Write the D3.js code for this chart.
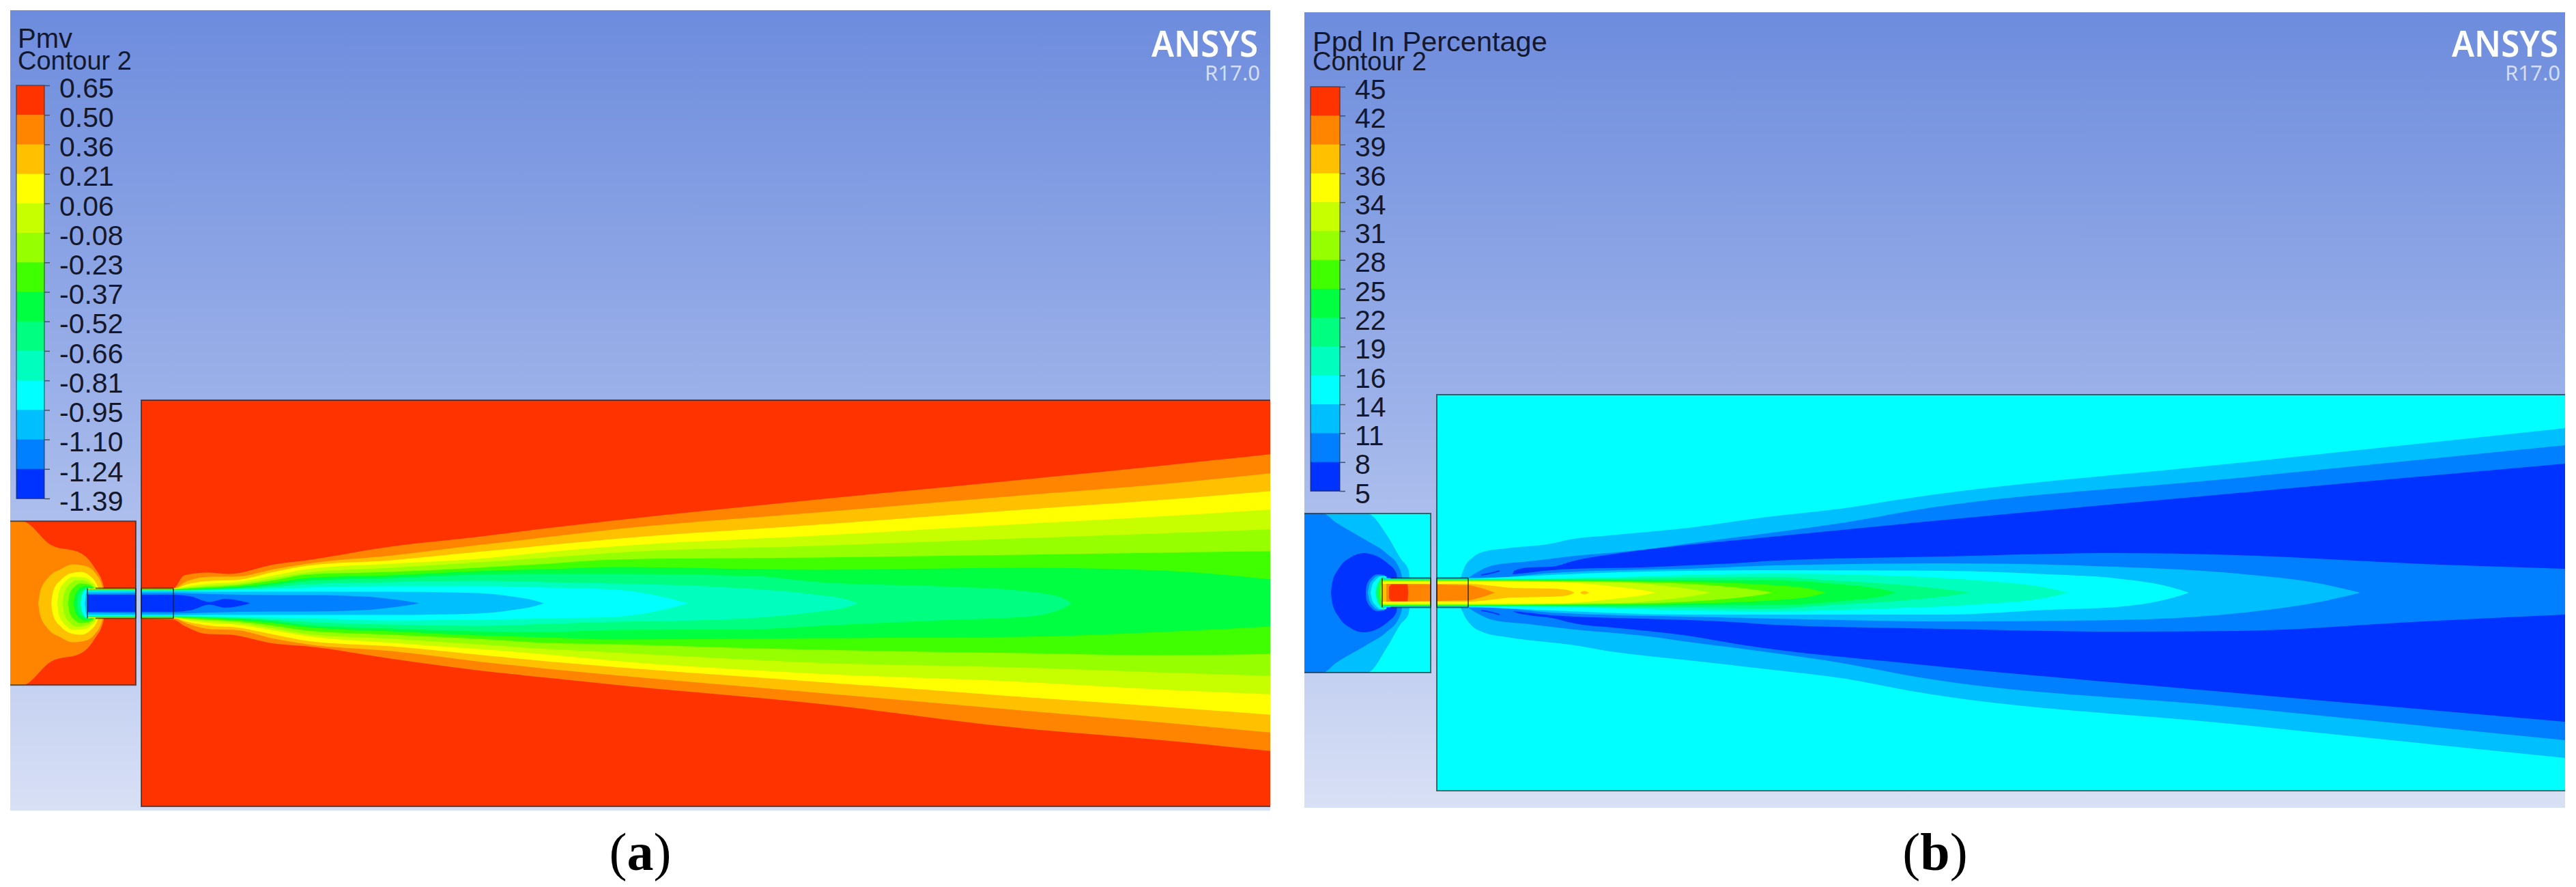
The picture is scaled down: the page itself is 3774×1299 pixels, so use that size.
<!DOCTYPE html>
<html>
<head>
<meta charset="utf-8">
<script src="https://cdn.jsdelivr.net/npm/d3@7"></script>
<style>
  html, body { margin: 0; background: #fff; }
  svg { display: block; }
  text { font-family: "Liberation Sans", Arial, sans-serif; }
</style>
</head>
<body>
<svg id="chart" width="3774" height="1299"></svg>
<script>
// contour band colours, top of the legend first
const bandColors = ['#ff3300', '#ff8400', '#ffc000', '#ffff00', '#c8ff00', '#96ff00', '#40ff00',
    '#00ff40', '#00ff80', '#00ffbf', '#00ffff', '#00bfff', '#0080ff', '#0033ff'];

const pmvLabels = ['0.65', '0.50', '0.36', '0.21', '0.06', '-0.08', '-0.23', '-0.37', '-0.52',
    '-0.66', '-0.81', '-0.95', '-1.10', '-1.24', '-1.39'];
const ppdLabels = ['45', '42', '39', '36', '34', '31', '28', '25', '22', '19', '16', '14', '11', '8', '5'];

// contour rows: [axial distance from nozzle exit, radius above axis, radius below axis]
// pmv jet
const pmvJet1 = [[-126, 21.5, 21.5], [0, 22, 24], [16, 41, 33], [50, 45, 45], [82, 43, 46], [148, 57, 59], [196, 63, 63], [320, 83, 81], [446, 97, 98], [550, 110, 109], [646, 121, 119], [946, 152, 147], [1246, 181, 183], [1446, 201, 200], [1607, 218, 216]];
const pmvJet2 = [[-126, 21.5, 21.5], [0, 22, 22], [21, 33, 30], [56, 39, 38], [90, 39, 39], [148, 50, 52], [196, 58, 60], [320, 70, 70], [446, 85, 85], [550, 97, 96], [646, 108, 105], [946, 133, 131], [1246, 158, 157], [1446, 174, 174], [1607, 190, 189]];
const pmvJet3 = [[-126, 21, 21], [0, 21.5, 21.5], [21, 28, 27], [56, 33, 33], [90, 34, 35], [148, 46, 46], [196, 55, 55], [320, 63, 63], [446, 75, 75], [550, 85, 85], [646, 94, 93], [946, 115, 115], [1246, 137, 137], [1446, 151, 151], [1607, 164, 163]];
const pmvJet4 = [[-126, 21, 21], [0, 21.5, 21.5], [21, 25, 25], [56, 29, 29], [90, 31, 31], [148, 41, 40], [196, 50, 48], [320, 58, 58], [446, 65, 67], [550, 75, 75], [646, 83, 84], [946, 99, 103], [1246, 116, 115], [1446, 127, 126], [1607, 137, 133]];
const pmvJet5 = [[-126, 20.5, 20.5], [0, 21, 21], [21, 23, 23], [56, 26, 26], [90, 28, 28], [148, 37, 37], [196, 45, 45], [320, 52, 52], [446, 60, 60], [550, 67, 67], [646, 74, 72], [946, 84, 87], [1246, 95, 94], [1446, 102, 101], [1607, 108, 106]];
const pmvJet6 = [[-126, 20.5, 20.5], [0, 20.5, 20.5], [21, 22, 22], [56, 24, 24], [90, 26, 26], [148, 34, 33], [196, 42, 40], [320, 46, 46], [446, 52, 52], [550, 58, 58], [646, 64, 60], [946, 67, 68], [1246, 71, 73], [1446, 74, 76], [1607, 76, 74]];
const pmvJet7 = [[-126, 20, 20], [0, 20, 20], [56, 22, 22], [90, 24, 24], [148, 30, 29], [196, 37, 35], [320, 41, 41], [446, 47, 47], [550, 50, 50], [646, 53, 53], [946, 49, 51], [1246, 52, 49], [1446, 48, 42], [1607, 35, 34]];
const pmvJet8 = [[-126, 19.5, 19.5], [0, 19.5, 19.5], [56, 21, 21], [90, 22, 22], [148, 27, 26], [196, 33, 32], [320, 37, 37], [446, 42, 41], [550, 43, 42], [646, 43, 39], [850, 40, 38], [946, 31, 33], [1146, 24, 24], [1246, 18, 20], [1300, 9, 9], [1316, 0, 0]];
const pmvJet9 = [[-126, 19, 19], [0, 19, 19], [56, 20, 20], [90, 21, 21], [148, 24, 24], [196, 28, 27], [320, 31, 31], [446, 33, 33], [550, 31, 30], [646, 29, 27], [796, 24, 24], [946, 12, 12], [985, 6, 6], [1003, 0, 0]];
const pmvJet10 = [[-126, 18.5, 18.5], [0, 18.5, 18.5], [56, 19, 19], [90, 20, 20], [148, 21, 21], [196, 23, 22], [320, 25, 25], [446, 25, 24], [550, 23, 22], [646, 20, 20], [710, 11, 11], [754, 0, 0]];
const pmvJet11 = [[-126, 17, 17], [0, 17.5, 17.5], [53, 17, 17], [148, 17, 17], [196, 17, 17], [320, 17, 17], [446, 15, 15], [496, 10, 10], [530, 4, 4], [543, 0, 0]];
const pmvJet12 = [[-126, 14, 14], [0, 15, 15], [53, 13.5, 13.5], [148, 12, 12], [196, 12, 12], [279, 10, 10], [329, 5, 5], [361, 0, 0]];
const pmvJet13 = [[-126, 12.5, 12.5], [0, 12.5, 12.5], [26, 10, 10], [53, 2, 2], [76, 6.5, 6.5], [96, 4, 4], [113, 0, 0]];

// pmv inlet room
const pmvInlet1 = [[-239, 120, 120], [-222, 120, 120], [-179, 85, 85], [-135, 73, 73], [-116, 53, 53], [-102, 24, 24], [-100, 0, 0]];
const pmvInlet2 = [[-198, 0, 0], [-195, 18, 18], [-183, 38, 38], [-165, 50, 50], [-148, 57, 57], [-130, 55, 55], [-115, 45, 45], [-104, 24, 24], [-102, 0, 0]];
const pmvInlet3 = [[-179, 0, 0], [-176, 18, 18], [-165, 34, 34], [-150, 44, 44], [-135, 46, 46], [-122, 40, 40], [-110, 22, 22], [-107, 0, 0]];
const pmvInlet4 = [[-170, 0, 0], [-168, 16, 16], [-158, 32, 32], [-146, 39, 39], [-132, 38, 38], [-120, 32, 32], [-112, 22, 22], [-109, 0, 0]];
const pmvInlet5 = [[-162, 0, 0], [-160, 15, 15], [-152, 28, 28], [-141, 34, 34], [-130, 33, 33], [-118, 26, 26], [-112, 20, 20], [-110, 0, 0]];
const pmvInlet6 = [[-154, 0, 0], [-152, 14, 14], [-145, 24, 24], [-136, 29, 29], [-126, 28, 28], [-116, 22, 22], [-113, 0, 0]];
const pmvInlet7 = [[-146, 0, 0], [-144, 12, 12], [-138, 21, 21], [-130, 25, 25], [-120, 24, 24], [-114, 0, 0]];
const pmvInlet8 = [[-141, 0, 0], [-139, 12, 12], [-132, 20, 20], [-124, 23, 23], [-116, 0, 0]];
const pmvInlet10 = [[-136, 0, 0], [-134, 12, 12], [-129, 20, 20], [-122, 23, 23], [-118, 0, 0]];
const pmvInlet11 = [[-130, 0, 0], [-128, 14, 14], [-125, 21, 21], [-120, 0, 0]];

// ppd jet
const ppdJet1 = [[-11, 22, 22], [-6, 36, 33], [7, 52, 50], [22, 60, 58], [56, 65, 65], [122, 72, 73], [149, 78, 76], [208, 84, 86], [323, 95, 99], [438, 111, 112], [553, 124, 126], [649, 139, 144], [1127, 190, 193], [1607, 241, 242]];
const ppdJet2 = [[0, 22, 22], [36, 40, 40], [89, 46, 46], [156, 54, 54], [256, 63, 63], [322, 72, 72], [438, 87, 87], [553, 103, 104], [649, 120, 122], [1127, 168, 168], [1607, 216, 216]];
const ppdJet3 = [[65, 26, 26], [67, 32, 28], [89, 37, 33], [122, 38, 37], [156, 47, 45], [222, 58, 52], [322, 70, 63], [405, 78, 77], [649, 102, 104], [1127, 146, 147], [1607, 189, 189]];
const ppdJet4 = [[0, 22, 22], [67, 27, 27], [122, 33, 33], [156, 35, 35], [256, 37, 38], [322, 40, 40], [389, 43, 43], [449, 47, 47], [699, 53, 53], [949, 58, 57], [1127, 55, 56], [1400, 42, 42], [1607, 35, 32]];
const ppdJet5 = [[-126, 21.5, 21.5], [36, 22, 22], [122, 29, 29], [222, 33, 33], [322, 35, 35], [449, 40, 38], [699, 43, 42], [949, 38, 40], [1127, 28, 30], [1250, 13, 13], [1307, 0, 0]];
const ppdJet6 = [[-126, 20.5, 20.5], [0, 20.5, 20.5], [36, 22, 22], [122, 26, 26], [222, 30, 30], [322, 32, 32], [449, 33, 32], [699, 32, 32], [849, 27, 25], [949, 21, 21], [1030, 8, 8], [1056, 0, 0]];
const ppdJet7 = [[-126, 20, 20], [0, 20, 20], [122, 21, 21], [222, 23, 23], [322, 26, 26], [449, 28, 27], [616, 25, 23], [749, 18, 17], [849, 7, 7], [879, 0, 0]];
const ppdJet8 = [[-126, 19.5, 19.5], [0, 19.5, 19.5], [122, 20, 20], [222, 21, 21], [322, 22, 22], [449, 23, 23], [532, 18, 18], [616, 13, 13], [716, 3, 3], [736, 0, 0]];
const ppdJet9 = [[-126, 19, 19], [0, 19, 19], [122, 19, 19], [322, 18.5, 18.5], [449, 18, 18], [549, 12, 12], [616, 3, 3], [626, 0, 0]];
const ppdJet10 = [[-126, 18.5, 18.5], [0, 18.5, 18.5], [122, 18, 18], [222, 17.5, 17.5], [322, 16, 16], [389, 14, 14], [449, 11, 11], [500, 6, 6], [524, 0, 0]];
const ppdJet11 = [[-126, 18, 18], [0, 18, 18], [122, 17, 17], [222, 16, 16], [322, 13, 13], [389, 8, 8], [430, 3, 3], [446, 0, 0]];
const ppdJet12 = [[-126, 17, 17], [0, 17, 17], [122, 16, 16], [222, 15, 15], [289, 10, 10], [340, 3, 3], [356, 0, 0]];
const ppdJet13 = [[-126, 15.5, 15.5], [0, 16, 16], [100, 16, 16], [156, 14.5, 14.5], [222, 8, 8], [260, 3, 3], [276, 0, 0]];
const ppdJet14 = [[-126, 13, 13], [0, 13, 13], [36, 10, 10], [66, 7, 7], [122, 6, 6], [145, 4, 4], [156, 0, 0]];
const ppdIslet = [[164, 0, 0], [170, 2.5, 2.5], [177, 0, 0]];
const ppdJet15 = [[-120, 13, 13], [0, 11, 11], [14, 8, 8], [28, 4, 4], [39, 0, 0]];
const ppdJet16 = [[-116, 8, 8], [-112, 12.5, 12.5], [-89, 12.5, 12.5], [-88, 0, 0]];
// thin dark streaks just past the exit; negative third column is the inner edge of the streak
const ppdStreakUpper = [[19, 27, -25], [35, 30, -28], [46, 33, -31]];
const ppdStreakLower = [[19, -25, 27], [35, -28, 30], [46, -31, 33]];

// ppd inlet room
const ppdInlet1 = [[-240, 116, 117], [-148, 116, 117], [-119, 84, 80], [-99, 50, 46], [-87, 32, 30], [-85, 0, 0]];
const ppdInlet2 = [[-240, 116, 117], [-213, 116, 117], [-194, 103, 103], [-148, 76, 76], [-119, 57, 57], [-102, 38, 38], [-97, 23, 23], [-95, 0, 0]];
const ppdInlet3 = [[-201, 0, 0], [-199, 16, 16], [-190, 35, 35], [-172, 52, 52], [-153, 58, 58], [-135, 54, 54], [-118, 43, 43], [-105, 28, 28], [-103, 0, 0]];
const ppdInlet4 = [[-150, 0, 0], [-149, 10, 10], [-143, 21, 21], [-133, 27, 27], [-123, 26, 26], [-118, 0, 0]];
const ppdInlet5 = [[-147, 0, 0], [-145, 10, 10], [-140, 19, 19], [-131, 25, 25], [-122, 25, 25], [-118, 0, 0]];
const ppdInlet6 = [[-143, 0, 0], [-141, 10, 10], [-136, 18, 18], [-128, 24, 24], [-120, 24, 24], [-118, 0, 0]];
const ppdInlet7 = [[-136, 0, 0], [-134, 10, 10], [-130, 18, 18], [-125, 23, 23], [-120, 0, 0]];
const ppdInlet8 = [[-131, 0, 0], [-130, 12, 12], [-127, 20, 20], [-124, 23, 23], [-122, 0, 0]];
const ppdInlet9 = [[-128, 0, 0], [-127, 12, 12], [-126, 20, 20], [-124, 0, 0]];

// painting order, outermost contour first: [colour index, rows]
const pmvBands = [[1, pmvInlet1], [2, pmvInlet2], [3, pmvInlet3], [4, pmvInlet4], [5, pmvInlet5], [6, pmvInlet6],
    [7, pmvInlet7], [8, pmvInlet8], [10, pmvInlet10], [11, pmvInlet11],
    [1, pmvJet1], [2, pmvJet2], [3, pmvJet3], [4, pmvJet4], [5, pmvJet5], [6, pmvJet6], [7, pmvJet7],
    [8, pmvJet8], [9, pmvJet9], [10, pmvJet10], [11, pmvJet11], [12, pmvJet12], [13, pmvJet13]];
const ppdBands = [[11, ppdInlet1], [12, ppdInlet2], [13, ppdInlet3], [12, ppdInlet4], [11, ppdInlet5], [10, ppdInlet6],
    [8, ppdInlet7], [6, ppdInlet8], [3, ppdInlet9],
    [11, ppdJet1], [12, ppdJet2], [13, ppdJet3], [13, ppdStreakUpper], [13, ppdStreakLower], [12, ppdJet4], [11, ppdJet5],
    [10, ppdJet6], [9, ppdJet7], [8, ppdJet8], [7, ppdJet9], [6, ppdJet10], [5, ppdJet11], [4, ppdJet12], [3, ppdJet13],
    [2, ppdJet14], [2, ppdIslet], [1, ppdJet15], [0, ppdJet16]];

const svg = d3.select('#chart');

const defs = svg.append('defs');
const sky = defs.append('linearGradient')
    .attr('id', 'sky')
    .attr('x1', 0).attr('y1', 0)
    .attr('x2', 0).attr('y2', 1);
sky.append('stop').attr('offset', 0).attr('stop-color', '#6d8cdd');
sky.append('stop').attr('offset', 0.5).attr('stop-color', '#9db2e9');
sky.append('stop').attr('offset', 1).attr('stop-color', '#d8e0f5');

function drawPanel (id, p) {

    const g = svg.append('g').attr('id', id);

    const x = d3.scaleLinear().domain(p.xDomain).range(p.xRange);
    const y = d3.scaleLinear().domain(p.yDomain).range(p.yRange);

    g.append('rect')
        .attr('x', p.frame[0])
        .attr('y', p.frame[1])
        .attr('width', p.frame[2] - p.frame[0])
        .attr('height', p.frame[3] - p.frame[1])
        .attr('fill', 'url(#sky)');

    // the two rooms; the jet and inlet contours only show inside them
    const rooms = [p.inletRoom, p.mainRoom];
    const clip = defs.append('clipPath').attr('id', id + '-clip');
    clip.selectAll('rect')
        .data(rooms)
        .enter()
        .append('rect')
        .attr('x', d => x(d[0]))
        .attr('y', d => y(d[3]))
        .attr('width', d => x(d[1]) - x(d[0]))
        .attr('height', d => y(d[2]) - y(d[3]));

    g.selectAll('rect.room')
        .data(rooms)
        .enter()
        .append('rect')
        .attr('class', 'room')
        .attr('x', d => x(d[0]))
        .attr('y', d => y(d[3]))
        .attr('width', d => x(d[1]) - x(d[0]))
        .attr('height', d => y(d[2]) - y(d[3]))
        .attr('fill', bandColors[p.base]);

    const band = d3.area()
        .x(d => x(d[0]))
        .y0(d => y(d[1]))
        .y1(d => y(-d[2]))
        .curve(d3.curveMonotoneX);

    g.append('g')
        .attr('clip-path', 'url(#' + id + '-clip)')
        .selectAll('path')
        .data(p.bands)
        .enter()
        .append('path')
        .attr('d', d => band(d[1]))
        .attr('fill', d => bandColors[d[0]]);

    // room outlines: open on the outer side, which ends at the picture edge
    const outline = d3.line().x(d => x(d[0])).y(d => y(d[1]));
    const [ix0, ix1, iy0, iy1] = p.inletRoom;
    const [mx0, mx1, my0, my1] = p.mainRoom;
    const w = p.tubeRadius;
    g.selectAll('path.wall')
        .data([
            [[ix0, iy1], [ix1, iy1], [ix1, iy0], [ix0, iy0]],
            [[mx1, my1], [mx0, my1], [mx0, my0], [mx1, my0]],
            [[p.tube[0], w], [p.tube[0], -w]],
            [[p.tube[1], w], [p.tube[1], -w]],
            [[ix1, w], [ix1, -w]],
            [[mx0, w], [mx0, -w]],
            [[p.tube[0] + 12, w], [ix1, w]],
            [[p.tube[0] + 12, -w], [ix1, -w]],
            [[mx0, w], [p.tube[1], w]],
            [[mx0, -w], [p.tube[1], -w]]
        ])
        .enter()
        .append('path')
        .attr('class', 'wall')
        .attr('d', outline)
        .attr('fill', 'none')
        .attr('stroke', '#1a2020')
        .attr('stroke-opacity', 0.65)
        .attr('stroke-width', 2);

    // legend
    const ly = d3.scalePoint().domain(p.labels).range(p.legendY);

    g.selectAll('rect.swatch')
        .data(bandColors)
        .enter()
        .append('rect')
        .attr('class', 'swatch')
        .attr('x', p.legendX[0])
        .attr('y', (d, i) => ly(p.labels[i]))
        .attr('width', p.legendX[1] - p.legendX[0])
        .attr('height', ly.step() + 0.5)
        .attr('fill', d => d);

    g.append('rect')
        .attr('x', p.legendX[0])
        .attr('y', p.legendY[0])
        .attr('width', p.legendX[1] - p.legendX[0])
        .attr('height', p.legendY[1] - p.legendY[0])
        .attr('fill', 'none')
        .attr('stroke', '#222')
        .attr('stroke-opacity', 0.55)
        .attr('stroke-width', 1.5);

    const axis = g.append('g')
        .attr('transform', 'translate(' + p.legendX[1] + ',0)')
        .call(d3.axisRight(ly).tickSize(8).tickPadding(14));

    axis.select('.domain').remove();
    axis.selectAll('line').attr('stroke', '#44506a').attr('stroke-width', 1.5);
    axis.selectAll('text')
        .attr('dy', '0.42em')
        .attr('fill', '#14182c')
        .style('font-family', '"Liberation Sans", Arial, sans-serif')
        .style('font-size', '41px');

    // titles
    g.selectAll('text.title')
        .data(p.titles)
        .enter()
        .append('text')
        .attr('class', 'title')
        .attr('x', d => d.x)
        .attr('y', d => d.y)
        .attr('fill', '#14182c')
        .style('font-size', d => d.size + 'px')
        .text(d => d.text);

    // product mark
    g.append('text')
        .attr('x', p.markX)
        .attr('y', 83)
        .attr('text-anchor', 'end')
        .attr('fill', '#ffffff')
        .attr('textLength', 156)
        .attr('lengthAdjust', 'spacingAndGlyphs')
        .style('font-family', '"Noto Sans", sans-serif')
        .style('font-weight', 600)
        .style('font-size', '52px')
        .text('ANSYS');

    g.append('text')
        .attr('x', p.markX + 3)
        .attr('y', 118)
        .attr('text-anchor', 'end')
        .attr('fill', '#d3def6')
        .attr('textLength', 81)
        .attr('lengthAdjust', 'spacingAndGlyphs')
        .style('font-family', '"Noto Sans", sans-serif')
        .style('font-size', '31px')
        .text('R17.0');

    // caption
    const caption = g.append('text')
        .attr('x', p.captionX)
        .attr('y', 1274)
        .attr('text-anchor', 'middle')
        .attr('fill', '#000')
        .style('font-family', '"Liberation Serif", serif')
        .style('font-size', '78px');
    caption.append('tspan').text('(');
    caption.append('tspan').style('font-weight', 'bold').text(p.caption);
    caption.append('tspan').text(')');
}

drawPanel('pmv', {
    frame: [15, 15, 1861, 1187],
    xDomain: [-239, 1607], xRange: [15, 1861],
    yDomain: [-297, 297], yRange: [1181, 586],
    inletRoom: [-239, -55, -119.5, 120],
    mainRoom: [-47, 1607, -297, 297],
    tube: [-126, 0],
    tubeRadius: 22,
    base: 0,
    bands: pmvBands,
    labels: pmvLabels,
    legendX: [24, 65],
    legendY: [125, 730],
    titles: [
        {text: 'Pmv', x: 26, y: 70, size: 40},
        {text: 'Contour 2', x: 26, y: 102, size: 38}
    ],
    markX: 1843,
    caption: 'a',
    captionX: 938
});

drawPanel('ppd', {
    frame: [1911, 18, 3758, 1183],
    xDomain: [-240, 1607], xRange: [1911, 3758],
    yDomain: [-290, 290], yRange: [1158, 578],
    inletRoom: [-240, -55, -117, 116],
    mainRoom: [-46, 1607, -290, 290],
    tube: [-126, 0],
    tubeRadius: 21.5,
    base: 10,
    bands: ppdBands,
    labels: ppdLabels,
    legendX: [1920, 1963],
    legendY: [127, 719],
    titles: [
        {text: 'Ppd In Percentage', x: 1923, y: 75, size: 41.5},
        {text: 'Contour 2', x: 1923, y: 103, size: 38}
    ],
    markX: 3748,
    caption: 'b',
    captionX: 2835
});
</script>
</body>
</html>
